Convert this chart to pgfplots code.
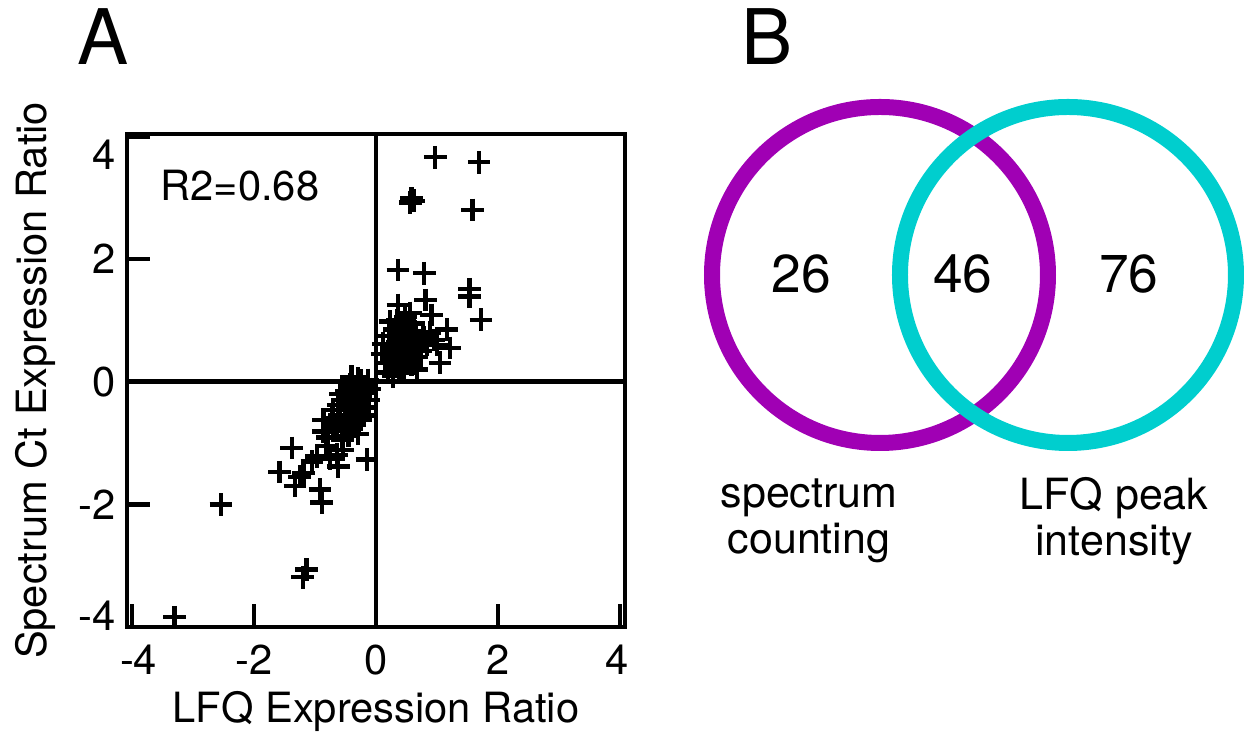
\documentclass[border=0pt]{standalone}
\usepackage{fontspec}
\setmainfont{TeX Gyre Heros}
\usepackage{pgfplots}
\pgfplotsset{compat=1.18}
\definecolor{vennpurple}{HTML}{A000B4}
\definecolor{vennteal}{HTML}{00CECE}

\begin{document}
\begin{tikzpicture}
% frame = reference 1250 x 739 px at 0.3pt per px
\useasboundingbox (0,0) rectangle (375pt,221.7pt);

\node[font=\fontsize{23}{26}\selectfont] at (30.9pt,210.6pt) {A};
\node[font=\fontsize{23}{26}\selectfont] at (230.1pt,210.6pt) {B};

% ---- panel A: scatter
\begin{axis}[
  at={(38.1pt,33.6pt)},anchor=south west,
  scale only axis,width=149.4pt,height=147.9pt,
  xmin=-4.08,xmax=4.08,ymin=-4,ymax=4.04,
  axis line style={line width=1.4pt},
  xtick={-4,-2,0,2,4},ytick={-4,-2,0,2,4},
  xticklabels={\hspace*{4pt}-4,-2,0,2,4\hspace*{2pt}},
  yticklabels={\raisebox{-1pt}[0pt][0pt]{-4},-2,0,2,\raisebox{-10pt}[0pt][0pt]{4}},
  tick align=inside,tickwidth=6.9pt,
  major tick style={line width=1.4pt,black},
  xtick pos=bottom,ytick pos=left,
  tick label style={font=\fontsize{12.5}{15}\selectfont},
  xticklabel style={yshift=-2pt},
  xlabel={LFQ Expression Ratio},
  ylabel={Spectrum Ct Expression Ratio},
  label style={font=\fontsize{12.5}{15}\selectfont},
  xlabel style={yshift=2pt},
  clip=false
]
\draw[line width=1.4pt] (axis cs:-4.08,0) -- (axis cs:4.08,0);
\draw[line width=1.4pt] (axis cs:0,-4) -- (axis cs:0,4.04);
\node[font=\fontsize{12.5}{15}\selectfont] at (axis cs:-2.23,3.2) {R2=0.68};
\addplot[only marks,mark=+,mark size=3.4pt,mark options={line width=1.3pt,black}] coordinates {
(0.97,3.66) (1.69,3.58) (0.58,2.99) (0.62,2.95) (0.56,2.92) (1.58,2.80)
(0.36,1.82) (0.79,1.77) (1.53,1.51) (1.53,1.39) (1.72,1.01) (0.36,1.25)
(0.81,1.33) (0.91,1.09) (0.23,0.98) (0.56,1.12) (1.16,0.85) (1.21,0.55)
(1.05,0.31)
(0.12,0.62) (0.18,0.45) (0.22,0.75) (0.25,0.30) (0.28,0.55) (0.30,0.85)
(0.33,0.40) (0.35,0.65) (0.38,0.20) (0.40,0.50) (0.42,0.78) (0.45,0.35)
(0.48,0.60) (0.50,0.90) (0.52,0.45) (0.55,0.70) (0.58,0.28) (0.60,0.55)
(0.63,0.82) (0.66,0.40) (0.70,0.65) (0.73,0.50) (0.78,0.72) (0.84,0.60)
(0.15,0.30) (0.20,0.15) (0.10,0.45) (0.28,0.12) (0.67,0.20) (0.28,0.09)
(0.45,0.15) (0.88,0.80) (0.95,0.68) (1.00,0.60) (0.35,1.00) (0.48,1.05)
(0.62,0.95)
(-3.30,-3.84) (-2.54,-2.00) (-1.14,-3.06) (-1.20,-3.19) (-1.58,-1.47)
(-1.38,-1.08) (-1.33,-1.70) (-0.92,-1.76) (-0.89,-1.97) (-0.15,-1.27)
(-0.64,-1.19) (-0.97,-1.22) (-1.19,-1.49) (-0.81,-1.05) (-0.54,-1.11)
(-0.62,-1.38) (-0.86,-0.81) (-0.79,-0.91) (-0.86,-0.62) (-0.70,-0.46)
(-0.43,-0.67) (-0.37,-0.35) (-0.43,-0.78) (-0.13,0.03) (-1.25,-1.55)
(-1.05,-1.30) (-0.75,-1.25)
(-0.60,-0.55) (-0.55,-0.30) (-0.50,-0.60) (-0.48,-0.15) (-0.45,-0.42)
(-0.42,-0.05) (-0.40,-0.25) (-0.38,-0.55) (-0.35,-0.10) (-0.33,-0.38)
(-0.30,0.05) (-0.28,-0.20) (-0.27,-0.48) (-0.25,-0.62) (-0.22,-0.30)
(-0.20,-0.08) (-0.18,-0.42) (-0.15,-0.18) (-0.12,-0.30) (-0.35,-0.70)
(-0.52,-0.75) (-0.58,-0.20) (-0.62,-0.38) (-0.45,-0.88) (-0.30,-0.85)
(-0.25,0.02) (-0.40,0.08) (-0.20,-0.55) (-0.10,-0.12) (-0.65,-0.70)
(-0.55,-0.95) (-0.70,-0.80) (-0.72,-0.60)
};
\end{axis}

% ---- panel B: Venn diagram, axis in reference pixel units
\begin{axis}[
  at={(207pt,191.7pt)},anchor=north west,
  scale only axis,width=168pt,height=114pt,
  xmin=690,xmax=1250,ymin=100,ymax=480,y dir=reverse,
  hide axis,clip=false
]
\draw[vennpurple,line width=4.8pt] (axis cs:880,275) circle[radius=50.4pt];
\draw[vennteal,line width=4.8pt] (axis cs:1068,275) circle[radius=50.4pt];
\begin{scope}[font=\fontsize{16}{19}\selectfont]
\node at (axis cs:801,274) {26};
\node at (axis cs:963,274) {46};
\node at (axis cs:1129,274) {76};
\end{scope}
\node[font=\fontsize{12.9}{13.8}\selectfont,align=center] at (axis cs:809,521) {spectrum\\counting};
\node[font=\fontsize{12.9}{13.8}\selectfont,align=center] at (axis cs:1114,521) {LFQ peak\\intensity};
\end{axis}
\end{tikzpicture}
\end{document}
